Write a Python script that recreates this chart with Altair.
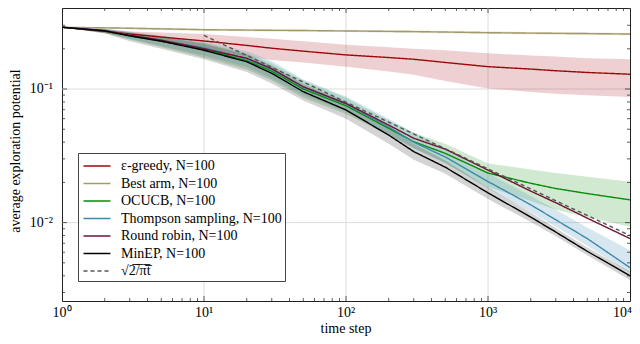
import altair as alt
import pandas as pd

# ---------------- data ----------------
T = [1, 2, 3, 5, 10, 20, 30, 50, 100, 200, 300, 500, 1000, 2000, 3000, 5000, 10000]

SERIES = [
    "\u03b5-greedy, N=100",
    "Best arm, N=100",
    "OCUCB, N=100",
    "Thompson sampling, N=100",
    "Round robin, N=100",
    "MinEP, N=100",
    "\u221a2\u0305/\u0305\u03c0\u0305t\u0305",
]
LINE_COLORS = ["#9b0a0a", "#a39a6a", "#0a8a0a", "#3f88aa", "#6e1432", "#000000", "#555555"]
LINE_WIDTHS = [1.4, 1.4, 1.4, 1.4, 1.4, 1.6, 0.9]
DASHES = [[1, 0], [1, 0], [1, 0], [1, 0], [1, 0], [1, 0], [4, 3]]

eps_mean = [0.29, 0.27, 0.258, 0.245, 0.229, 0.212, 0.202, 0.192, 0.180, 0.172, 0.167, 0.158, 0.147, 0.141, 0.137, 0.133, 0.129]
eps_lo = [0.29, 0.262, 0.245, 0.225, 0.2, 0.175, 0.165, 0.158, 0.147, 0.135, 0.128, 0.115, 0.101, 0.095, 0.092, 0.09, 0.087]
eps_hi = [0.29, 0.278, 0.27, 0.265, 0.258, 0.245, 0.238, 0.228, 0.214, 0.205, 0.2, 0.195, 0.185, 0.178, 0.175, 0.17, 0.167]

best_mean = [0.29, 0.287, 0.285, 0.282, 0.278, 0.276, 0.275, 0.274, 0.272, 0.27, 0.269, 0.267, 0.264, 0.262, 0.261, 0.26, 0.258]
best_lo = [0.29, 0.283, 0.28, 0.277, 0.273, 0.271, 0.27, 0.269, 0.267, 0.265, 0.264, 0.262, 0.259, 0.257, 0.256, 0.255, 0.253]
best_hi = [0.29, 0.291, 0.29, 0.287, 0.283, 0.281, 0.28, 0.279, 0.277, 0.275, 0.274, 0.272, 0.269, 0.267, 0.266, 0.265, 0.263]

ocucb_mean = [0.29, 0.272, 0.25, 0.229, 0.198, 0.163, 0.136, 0.1, 0.075, 0.0508, 0.0403, 0.033, 0.0235, 0.0197, 0.018, 0.0165, 0.0148]
ocucb_lo = [0.29, 0.262, 0.235, 0.206, 0.172, 0.14, 0.116, 0.086, 0.065, 0.045, 0.036, 0.028, 0.0185, 0.0145, 0.0125, 0.011, 0.0093]
ocucb_hi = [0.29, 0.282, 0.266, 0.248, 0.222, 0.185, 0.156, 0.116, 0.086, 0.058, 0.047, 0.039, 0.0277, 0.025, 0.0235, 0.022, 0.0202]

ts_mean = [0.29, 0.274, 0.253, 0.232, 0.203, 0.168, 0.140, 0.103, 0.077, 0.052, 0.040, 0.031, 0.0203, 0.0136, 0.0105, 0.0076, 0.0046]
ts_lo = [0.29, 0.264, 0.238, 0.21, 0.178, 0.146, 0.12, 0.09, 0.068, 0.046, 0.036, 0.028, 0.018, 0.012, 0.0093, 0.0067, 0.0042]
ts_hi = [0.29, 0.284, 0.27, 0.252, 0.228, 0.192, 0.162, 0.118, 0.088, 0.06, 0.047, 0.036, 0.0235, 0.0158, 0.0125, 0.0092, 0.0062]

rr_mean = [0.29, 0.274, 0.253, 0.232, 0.20, 0.17, 0.142, 0.104, 0.078, 0.0537, 0.0428, 0.0355, 0.0247, 0.0172, 0.0141, 0.0108, 0.0076]

minep_mean = [0.29, 0.272, 0.25, 0.228, 0.195, 0.16, 0.131, 0.0955, 0.0697, 0.0452, 0.034, 0.026, 0.0167, 0.011, 0.0085, 0.0061, 0.0040]
minep_lo = [0.29, 0.262, 0.228, 0.2, 0.167, 0.134, 0.11, 0.082, 0.06, 0.039, 0.0296, 0.0232, 0.015, 0.0101, 0.0079, 0.0057, 0.0037]
minep_hi = [0.29, 0.28, 0.265, 0.246, 0.218, 0.181, 0.15, 0.109, 0.08, 0.052, 0.039, 0.0292, 0.0184, 0.0119, 0.0091, 0.0065, 0.0043]

SQRT_T = [10, 10000]
SQRT_V = [0.252, 0.0080]

X_DOMAIN = [1, 10000]
Y_DOMAIN = [0.00259, 0.404]
X_MAJOR = [1, 10, 100, 1000, 10000]
X_LABELS = ["10\u2070", "10\u00b9", "10\u00b2", "10\u00b3", "10\u2074"]
X_MINOR = [2, 3, 4, 5, 6, 7, 8, 9, 20, 30, 40, 50, 60, 70, 80, 90,
           200, 300, 400, 500, 600, 700, 800, 900, 2000, 3000, 4000, 5000, 6000, 7000, 8000, 9000]
Y_MAJOR = [0.01, 0.1]
Y_LABELS = ["10\u207b\u00b2", "10\u207b\u00b9"]
Y_MINOR = [0.003, 0.004, 0.005, 0.006, 0.007, 0.008, 0.009,
           0.02, 0.03, 0.04, 0.05, 0.06, 0.07, 0.08, 0.09, 0.2, 0.3, 0.4]
X_TITLE = "time step"
Y_TITLE = "average exploration potential"

# ---------------- build chart ----------------
W, H = 568, 293
FONT = "Liberation Serif"
GRID = "#dcdcdc"

rows = []
for name, vals in zip(SERIES[:6], [eps_mean, best_mean, ocucb_mean, ts_mean, rr_mean, minep_mean]):
    for t, v in zip(T, vals):
        rows.append({"series": name, "t": t, "v": v})
for t, v in zip(SQRT_T, SQRT_V):
    rows.append({"series": SERIES[6], "t": t, "v": v})
lines_df = pd.DataFrame(rows)

xscale = alt.Scale(type="log", domain=X_DOMAIN, nice=False)
yscale = alt.Scale(type="log", domain=Y_DOMAIN, nice=False)


def X(field="t"):
    return alt.X(f"{field}:Q", scale=xscale, axis=None)


def Y(field="v"):
    return alt.Y(f"{field}:Q", scale=yscale, axis=None)


# grid lines at decades
xgrid = alt.Chart(pd.DataFrame({"t": X_MAJOR[1:-1]})).mark_rule(color=GRID, strokeWidth=1).encode(
    x=X(), y=alt.value(0), y2=alt.value(H))
ygrid = alt.Chart(pd.DataFrame({"v": Y_MAJOR})).mark_rule(color=GRID, strokeWidth=1).encode(
    y=Y(), x=alt.value(0), x2=alt.value(W))

band_specs = [
    (eps_lo, eps_hi, "#b02838", 0.22),
    (best_lo, best_hi, "#a39a6a", 0.3),
    (ocucb_lo, ocucb_hi, "#2a9a2a", 0.22),
    (ts_lo, ts_hi, "#5a9ec0", 0.25),
    (minep_lo, minep_hi, "#000000", 0.17),
]
bands = []
for lo, hi, col, op in band_specs:
    bdf = pd.DataFrame({"t": T, "lo": lo, "hi": hi})
    bands.append(alt.Chart(bdf).mark_area(color=col, opacity=op).encode(x=X(), y=Y("lo"), y2="hi:Q"))

leg = alt.Legend(
    title=None, orient="none", legendX=16, legendY=145,
    symbolType="M-1.5,0L1.5,0", symbolSize=324, symbolStrokeWidth=1.5,
    symbolOffset=6, labelOffset=14, labelFont=FONT, labelFontSize=14,
    labelColor="#000", labelLimit=400, padding=3, rowPadding=0.5,
    strokeColor="#444", fillColor="white",
)

lines = alt.Chart(lines_df).mark_line().encode(
    x=X(), y=Y(),
    stroke=alt.Stroke("series:N", scale=alt.Scale(domain=SERIES, range=LINE_COLORS), legend=leg),
    strokeDash=alt.StrokeDash("series:N", scale=alt.Scale(domain=SERIES, range=DASHES), legend=leg),
    strokeWidth=alt.StrokeWidth("series:N", scale=alt.Scale(domain=SERIES, range=LINE_WIDTHS), legend=None),
)


def xticks(vals, length):
    df = pd.DataFrame({"t": vals})
    base = alt.Chart(df).mark_rule(color="#333", strokeWidth=0.8)
    return [base.encode(x=X(), y=alt.value(H), y2=alt.value(H - length)),
            base.encode(x=X(), y=alt.value(0), y2=alt.value(length))]


def yticks(vals, length):
    df = pd.DataFrame({"v": vals})
    base = alt.Chart(df).mark_rule(color="#333", strokeWidth=0.8)
    return [base.encode(y=Y(), x=alt.value(0), x2=alt.value(length)),
            base.encode(y=Y(), x=alt.value(W), x2=alt.value(W - length))]


ticks = xticks(X_MAJOR[1:-1], 5) + xticks(X_MINOR, 3) + yticks(Y_MAJOR, 5) + yticks(Y_MINOR, 3)

# tick labels
xlab_df = pd.DataFrame({"t": X_MAJOR, "lab": X_LABELS})
xlabels_mid = alt.Chart(xlab_df[:-1]).mark_text(font=FONT, fontSize=14, color="#000", baseline="middle", align="center").encode(
    x=X(), y=alt.value(H + 12), text="lab:N")
xlabels_end = alt.Chart(xlab_df[-1:]).mark_text(font=FONT, fontSize=14, color="#000", baseline="middle", align="right", dx=2).encode(
    x=X(), y=alt.value(H + 12), text="lab:N")
ylabels = alt.Chart(pd.DataFrame({"v": Y_MAJOR, "lab": Y_LABELS})).mark_text(
    font=FONT, fontSize=14, color="#000", baseline="middle", align="right").encode(
    y=Y(), x=alt.value(-9), text="lab:N")

# axis titles
xtitle = alt.Chart(pd.DataFrame({"lab": [X_TITLE]})).mark_text(
    font=FONT, fontSize=14, color="#000", baseline="alphabetic", align="center").encode(
    x=alt.value(W / 2), y=alt.value(H + 32), text="lab:N")
ytitle = alt.Chart(pd.DataFrame({"lab": [Y_TITLE]})).mark_text(
    font=FONT, fontSize=14, color="#000", baseline="middle", align="center", angle=270).encode(
    x=alt.value(-46), y=alt.value(143), text="lab:N")

chart = alt.layer(
    xgrid, ygrid, *bands, lines, *ticks, xlabels_mid, xlabels_end, ylabels, xtitle, ytitle
).properties(
    width=W, height=H,
    autosize=alt.AutoSizeParams(type="none"),
    padding={"left": 54, "top": 0, "right": 2, "bottom": 35},
    background="white",
).configure_view(
    stroke="#222", strokeWidth=1
)

chart.save("out.html", embed_options={"renderer": "svg", "actions": False})
